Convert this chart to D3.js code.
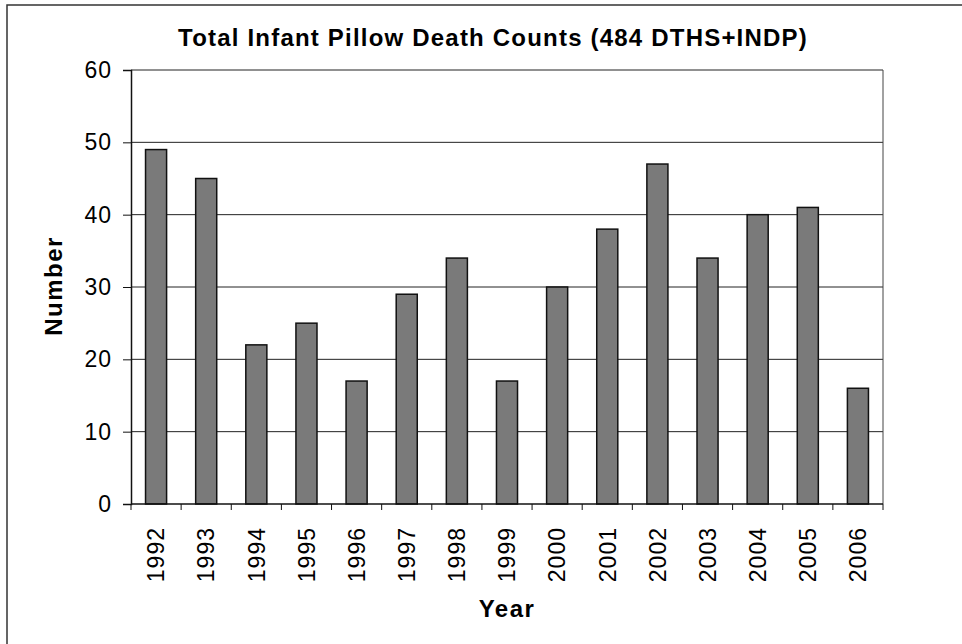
<!DOCTYPE html>
<html>
<head>
  <title>Total Infant Pillow Death Counts</title>
  <script src="https://d3js.org/d3.v7.min.js"></script>
  <style>
    body { margin: 0; background: #fff; }
    text { font-family: "Liberation Sans", Arial, sans-serif; fill: #000; }
    .tick-label { font-size: 23px; letter-spacing: 1px; }
    .title { font-size: 24px; font-weight: bold; letter-spacing: 1.2px; }
    .axis-title { font-size: 24px; font-weight: bold; letter-spacing: 1.5px; }
  </style>
</head>
<body>
  <div class="chart"></div>
  <script>
    // data
    const years = ["1992", "1993", "1994", "1995", "1996", "1997", "1998", "1999",
                   "2000", "2001", "2002", "2003", "2004", "2005", "2006"];
    const counts = [49, 45, 22, 25, 17, 29, 34, 17, 30, 38, 47, 34, 40, 41, 16];
    const yTicks = [0, 10, 20, 30, 40, 50, 60];

    const width = 962, height = 644;
    const plot = { left: 131, right: 883, top: 70, bottom: 504 };

    const svg = d3.select(".chart")
      .append("svg")
      .attr("width", width)
      .attr("height", height);

    // outer frame (only top and left edges show)
    svg.append("path")
      .attr("d", `M7,${height} L7,5 L${width},5`)
      .attr("fill", "none")
      .attr("stroke", "#333")
      .attr("stroke-width", 1.5);

    const x = d3.scaleBand()
      .domain(years)
      .range([plot.left, plot.right])
      .paddingInner(0.58)
      .paddingOuter(0.29);

    const y = d3.scaleLinear()
      .domain([0, 60])
      .range([plot.bottom, plot.top]);

    // gridlines
    svg.append("g")
      .selectAll("line")
      .data(yTicks.filter(d => d > 0))
      .join("line")
      .attr("x1", plot.left)
      .attr("x2", plot.right)
      .attr("y1", d => y(d))
      .attr("y2", d => y(d))
      .attr("stroke", "#222")
      .attr("stroke-width", 1);

    // right edge of plot area
    svg.append("line")
      .attr("x1", plot.right).attr("x2", plot.right)
      .attr("y1", plot.top).attr("y2", plot.bottom)
      .attr("stroke", "#444")
      .attr("stroke-width", 1);

    // bars
    svg.append("g")
      .selectAll("rect")
      .data(counts)
      .join("rect")
      .attr("x", (d, i) => x(years[i]))
      .attr("y", d => y(d))
      .attr("width", x.bandwidth())
      .attr("height", d => y(0) - y(d))
      .attr("fill", "#7a7a7a")
      .attr("stroke", "#111")
      .attr("stroke-width", 1.5);

    // y axis
    const yAxis = svg.append("g")
      .attr("transform", `translate(${plot.left},0)`)
      .call(d3.axisLeft(y).tickValues(yTicks).tickSize(8).tickPadding(11));
    yAxis.select(".domain").attr("stroke", "#111").attr("stroke-width", 1.5);
    yAxis.selectAll(".tick line").attr("stroke", "#111");
    yAxis.selectAll(".tick text")
      .attr("class", "tick-label")
      .attr("font-family", null)
      .attr("font-size", null);

    // x axis: ticks on category boundaries
    const step = x.step();
    const boundaries = d3.range(years.length + 1).map(i => plot.left + i * step);
    svg.append("line")
      .attr("x1", plot.left).attr("x2", plot.right)
      .attr("y1", plot.bottom).attr("y2", plot.bottom)
      .attr("stroke", "#111")
      .attr("stroke-width", 1.5);
    svg.append("g")
      .selectAll("line")
      .data(boundaries)
      .join("line")
      .attr("x1", d => d).attr("x2", d => d)
      .attr("y1", plot.bottom).attr("y2", plot.bottom + 6)
      .attr("stroke", "#111");

    svg.append("g")
      .selectAll("text")
      .data(years)
      .join("text")
      .attr("class", "tick-label")
      .attr("transform", d => `translate(${x(d) + x.bandwidth() / 2},527) rotate(-90)`)
      .attr("text-anchor", "end")
      .attr("dy", "0.36em")
      .text(d => d);

    // titles
    svg.append("text")
      .attr("class", "title")
      .attr("x", 493)
      .attr("y", 46)
      .attr("text-anchor", "middle")
      .text("Total Infant Pillow Death Counts (484 DTHS+INDP)");

    svg.append("text")
      .attr("class", "axis-title")
      .attr("transform", "translate(62,286) rotate(-90)")
      .attr("text-anchor", "middle")
      .text("Number");

    svg.append("text")
      .attr("class", "axis-title")
      .attr("x", 507)
      .attr("y", 617)
      .attr("text-anchor", "middle")
      .text("Year");
  </script>
</body>
</html>
